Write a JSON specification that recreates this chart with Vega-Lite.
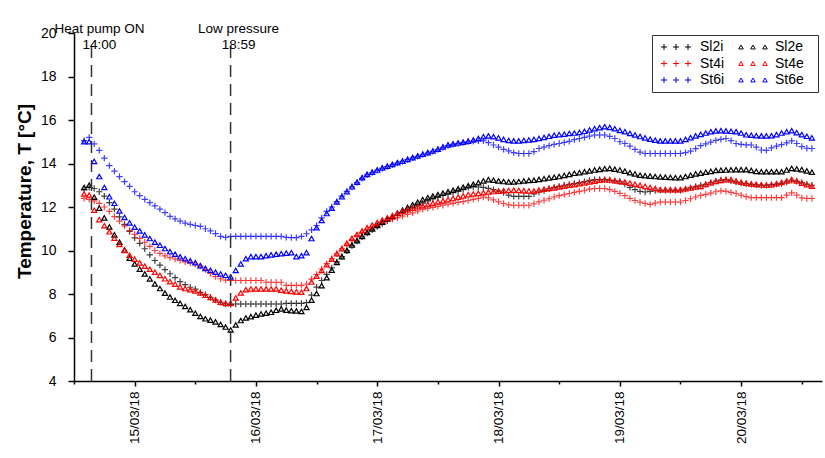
{
"$schema": "https://vega.github.io/schema/vega-lite/v6.json",
"width": 748, "height": 348, "autosize": "none",
"padding": {"left": 74, "top": 33, "right": 3, "bottom": 77},
"background": "white",
"config": {"font": "Liberation Sans", "view": {"stroke": null},
  "axis": {"grid": false, "domainColor": "black", "tickColor": "black", "labelColor": "black", "titleColor": "black", "domainWidth": 1.5, "tickWidth": 1.5}},
"resolve": {"scale": {"color": "independent"}, "legend": {"color": "independent"}},
"datasets": {
"events": [{"h": 15.46, "label": ["Heat pump ON", "14:00"]}, {"h": 42.98, "label": ["Low pressure", "18:59"]}],
"temps": [
{"h":14,"Sl2i":12.8,"Sl2e":12.9,"St4i":12.4,"St4e":12.6,"St6i":15.05,"St6e":15.0},
{"h":15,"Sl2i":12.9,"Sl2e":13.0,"St4i":12.35,"St4e":12.55,"St6i":15.2,"St6e":15.0},
{"h":16,"Sl2i":12.85,"Sl2e":12.45,"St4i":12.28,"St4e":11.85,"St6i":14.9,"St6e":14.1},
{"h":17,"Sl2i":12.7,"Sl2e":11.95,"St4i":12.17,"St4e":11.42,"St6i":14.6,"St6e":13.4},
{"h":18,"Sl2i":12.5,"Sl2e":11.5,"St4i":12.0,"St4e":11.14,"St6i":14.25,"St6e":12.9},
{"h":19,"Sl2i":12.2,"Sl2e":11.08,"St4i":11.8,"St4e":10.86,"St6i":13.9,"St6e":12.47},
{"h":20,"Sl2i":11.9,"Sl2e":10.72,"St4i":11.56,"St4e":10.57,"St6i":13.65,"St6e":12.17},
{"h":21,"Sl2i":11.55,"Sl2e":10.38,"St4i":11.35,"St4e":10.28,"St6i":13.4,"St6e":11.82},
{"h":22,"Sl2i":11.2,"Sl2e":10.03,"St4i":11.13,"St4e":10.0,"St6i":13.17,"St6e":11.52},
{"h":23,"Sl2i":10.88,"Sl2e":9.65,"St4i":10.92,"St4e":9.78,"St6i":12.95,"St6e":11.27},
{"h":24,"Sl2i":10.58,"Sl2e":9.38,"St4i":10.74,"St4e":9.6,"St6i":12.7,"St6e":11.07},
{"h":25,"Sl2i":10.33,"Sl2e":9.14,"St4i":10.56,"St4e":9.43,"St6i":12.52,"St6e":10.9},
{"h":26,"Sl2i":10.08,"Sl2e":8.92,"St4i":10.38,"St4e":9.28,"St6i":12.35,"St6e":10.72},
{"h":27,"Sl2i":9.8,"Sl2e":8.69,"St4i":10.19,"St4e":9.14,"St6i":12.2,"St6e":10.55},
{"h":28,"Sl2i":9.54,"Sl2e":8.46,"St4i":10.0,"St4e":9.0,"St6i":12.05,"St6e":10.38},
{"h":29,"Sl2i":9.33,"Sl2e":8.25,"St4i":9.87,"St4e":8.85,"St6i":11.9,"St6e":10.24},
{"h":30,"Sl2i":9.12,"Sl2e":8.04,"St4i":9.75,"St4e":8.7,"St6i":11.74,"St6e":10.09},
{"h":31,"Sl2i":8.93,"Sl2e":7.86,"St4i":9.67,"St4e":8.57,"St6i":11.57,"St6e":9.95},
{"h":32,"Sl2i":8.75,"Sl2e":7.71,"St4i":9.61,"St4e":8.45,"St6i":11.45,"St6e":9.83},
{"h":33,"Sl2i":8.57,"Sl2e":7.57,"St4i":9.55,"St4e":8.33,"St6i":11.35,"St6e":9.71},
{"h":34,"Sl2i":8.43,"Sl2e":7.43,"St4i":9.48,"St4e":8.25,"St6i":11.26,"St6e":9.62},
{"h":35,"Sl2i":8.31,"Sl2e":7.28,"St4i":9.43,"St4e":8.2,"St6i":11.2,"St6e":9.53},
{"h":36,"Sl2i":8.22,"Sl2e":7.12,"St4i":9.37,"St4e":8.14,"St6i":11.15,"St6e":9.44},
{"h":37,"Sl2i":8.07,"Sl2e":6.97,"St4i":9.28,"St4e":8.05,"St6i":11.11,"St6e":9.3},
{"h":38,"Sl2i":7.97,"Sl2e":6.86,"St4i":9.12,"St4e":7.94,"St6i":11.0,"St6e":9.18},
{"h":39,"Sl2i":7.84,"Sl2e":6.8,"St4i":8.95,"St4e":7.84,"St6i":10.9,"St6e":9.09},
{"h":40,"Sl2i":7.72,"Sl2e":6.72,"St4i":8.8,"St4e":7.73,"St6i":10.78,"St6e":9.0},
{"h":41,"Sl2i":7.62,"Sl2e":6.6,"St4i":8.7,"St4e":7.62,"St6i":10.65,"St6e":8.92},
{"h":42,"Sl2i":7.55,"Sl2e":6.48,"St4i":8.64,"St4e":7.57,"St6i":10.6,"St6e":8.86},
{"h":43,"Sl2i":7.51,"Sl2e":6.35,"St4i":8.62,"St4e":7.57,"St6i":10.65,"St6e":8.79},
{"h":44,"Sl2i":7.54,"Sl2e":6.58,"St4i":8.62,"St4e":7.82,"St6i":10.65,"St6e":9.08},
{"h":45,"Sl2i":7.54,"Sl2e":6.78,"St4i":8.62,"St4e":8.05,"St6i":10.65,"St6e":9.38},
{"h":46,"Sl2i":7.54,"Sl2e":6.9,"St4i":8.62,"St4e":8.2,"St6i":10.65,"St6e":9.62},
{"h":47,"Sl2i":7.54,"Sl2e":6.96,"St4i":8.62,"St4e":8.23,"St6i":10.65,"St6e":9.72},
{"h":48,"Sl2i":7.54,"Sl2e":7.03,"St4i":8.62,"St4e":8.23,"St6i":10.65,"St6e":9.72},
{"h":49,"Sl2i":7.54,"Sl2e":7.08,"St4i":8.62,"St4e":8.23,"St6i":10.65,"St6e":9.72},
{"h":50,"Sl2i":7.54,"Sl2e":7.12,"St4i":8.54,"St4e":8.23,"St6i":10.65,"St6e":9.76},
{"h":51,"Sl2i":7.54,"Sl2e":7.16,"St4i":8.54,"St4e":8.23,"St6i":10.65,"St6e":9.8},
{"h":52,"Sl2i":7.54,"Sl2e":7.25,"St4i":8.54,"St4e":8.23,"St6i":10.65,"St6e":9.83},
{"h":53,"Sl2i":7.54,"Sl2e":7.31,"St4i":8.54,"St4e":8.18,"St6i":10.65,"St6e":9.85},
{"h":54,"Sl2i":7.57,"Sl2e":7.26,"St4i":8.4,"St4e":8.14,"St6i":10.6,"St6e":9.88},
{"h":55,"Sl2i":7.57,"Sl2e":7.23,"St4i":8.4,"St4e":8.12,"St6i":10.59,"St6e":9.9},
{"h":56,"Sl2i":7.57,"Sl2e":7.22,"St4i":8.4,"St4e":8.1,"St6i":10.59,"St6e":9.72},
{"h":57,"Sl2i":7.57,"Sl2e":7.2,"St4i":8.4,"St4e":8.08,"St6i":10.65,"St6e":9.76},
{"h":58,"Sl2i":7.6,"Sl2e":7.38,"St4i":8.46,"St4e":8.25,"St6i":10.77,"St6e":9.9},
{"h":59,"Sl2i":7.95,"Sl2e":7.72,"St4i":8.68,"St4e":8.55,"St6i":10.95,"St6e":10.55},
{"h":60,"Sl2i":8.32,"Sl2e":8.02,"St4i":8.9,"St4e":8.82,"St6i":11.15,"St6e":11.05},
{"h":61,"Sl2i":8.62,"Sl2e":8.38,"St4i":9.15,"St4e":9.08,"St6i":11.5,"St6e":11.38},
{"h":62,"Sl2i":8.9,"Sl2e":8.75,"St4i":9.4,"St4e":9.35,"St6i":11.8,"St6e":11.7},
{"h":63,"Sl2i":9.2,"Sl2e":9.1,"St4i":9.62,"St4e":9.6,"St6i":12.0,"St6e":11.95},
{"h":64,"Sl2i":9.48,"Sl2e":9.45,"St4i":9.85,"St4e":9.85,"St6i":12.25,"St6e":12.23},
{"h":65,"Sl2i":9.72,"Sl2e":9.72,"St4i":10.08,"St4e":10.08,"St6i":12.5,"St6e":12.47},
{"h":66,"Sl2i":9.98,"Sl2e":10.0,"St4i":10.3,"St4e":10.33,"St6i":12.72,"St6e":12.7},
{"h":67,"Sl2i":10.22,"Sl2e":10.25,"St4i":10.5,"St4e":10.56,"St6i":12.93,"St6e":12.93},
{"h":68,"Sl2i":10.43,"Sl2e":10.45,"St4i":10.68,"St4e":10.74,"St6i":13.12,"St6e":13.14},
{"h":69,"Sl2i":10.63,"Sl2e":10.65,"St4i":10.83,"St4e":10.9,"St6i":13.32,"St6e":13.35},
{"h":70,"Sl2i":10.8,"Sl2e":10.83,"St4i":10.95,"St4e":11.05,"St6i":13.48,"St6e":13.5},
{"h":71,"Sl2i":10.95,"Sl2e":10.99,"St4i":11.05,"St4e":11.17,"St6i":13.58,"St6e":13.6},
{"h":72,"Sl2i":11.1,"Sl2e":11.15,"St4i":11.15,"St4e":11.29,"St6i":13.68,"St6e":13.7},
{"h":73,"Sl2i":11.24,"Sl2e":11.3,"St4i":11.27,"St4e":11.4,"St6i":13.78,"St6e":13.8},
{"h":74,"Sl2i":11.38,"Sl2e":11.45,"St4i":11.35,"St4e":11.5,"St6i":13.86,"St6e":13.88},
{"h":75,"Sl2i":11.5,"Sl2e":11.58,"St4i":11.43,"St4e":11.6,"St6i":13.94,"St6e":13.96},
{"h":76,"Sl2i":11.62,"Sl2e":11.72,"St4i":11.5,"St4e":11.7,"St6i":14.02,"St6e":14.04},
{"h":77,"Sl2i":11.73,"Sl2e":11.85,"St4i":11.58,"St4e":11.8,"St6i":14.1,"St6e":14.11},
{"h":78,"Sl2i":11.85,"Sl2e":11.98,"St4i":11.66,"St4e":11.88,"St6i":14.18,"St6e":14.19},
{"h":79,"Sl2i":11.96,"Sl2e":12.1,"St4i":11.73,"St4e":11.95,"St6i":14.26,"St6e":14.27},
{"h":80,"Sl2i":12.07,"Sl2e":12.22,"St4i":11.81,"St4e":12.01,"St6i":14.33,"St6e":14.35},
{"h":81,"Sl2i":12.18,"Sl2e":12.34,"St4i":11.89,"St4e":12.06,"St6i":14.41,"St6e":14.43},
{"h":82,"Sl2i":12.28,"Sl2e":12.43,"St4i":11.94,"St4e":12.12,"St6i":14.48,"St6e":14.5},
{"h":83,"Sl2i":12.37,"Sl2e":12.5,"St4i":11.98,"St4e":12.17,"St6i":14.56,"St6e":14.58},
{"h":84,"Sl2i":12.45,"Sl2e":12.57,"St4i":12.03,"St4e":12.23,"St6i":14.64,"St6e":14.66},
{"h":85,"Sl2i":12.53,"Sl2e":12.64,"St4i":12.08,"St4e":12.28,"St6i":14.73,"St6e":14.76},
{"h":86,"Sl2i":12.6,"Sl2e":12.7,"St4i":12.13,"St4e":12.34,"St6i":14.82,"St6e":14.85},
{"h":87,"Sl2i":12.66,"Sl2e":12.77,"St4i":12.17,"St4e":12.39,"St6i":14.88,"St6e":14.9},
{"h":88,"Sl2i":12.73,"Sl2e":12.84,"St4i":12.21,"St4e":12.45,"St6i":14.92,"St6e":14.94},
{"h":89,"Sl2i":12.8,"Sl2e":12.91,"St4i":12.25,"St4e":12.51,"St6i":14.96,"St6e":14.98},
{"h":90,"Sl2i":12.9,"Sl2e":12.98,"St4i":12.3,"St4e":12.57,"St6i":15.0,"St6e":15.03},
{"h":91,"Sl2i":12.92,"Sl2e":13.05,"St4i":12.35,"St4e":12.6,"St6i":15.02,"St6e":15.08},
{"h":92,"Sl2i":12.92,"Sl2e":13.12,"St4i":12.4,"St4e":12.63,"St6i":15.04,"St6e":15.15},
{"h":93,"Sl2i":12.9,"Sl2e":13.2,"St4i":12.45,"St4e":12.66,"St6i":15.04,"St6e":15.23},
{"h":94,"Sl2i":12.86,"Sl2e":13.26,"St4i":12.42,"St4e":12.69,"St6i":14.96,"St6e":15.27},
{"h":95,"Sl2i":12.8,"Sl2e":13.23,"St4i":12.33,"St4e":12.71,"St6i":14.85,"St6e":15.23},
{"h":96,"Sl2i":12.73,"Sl2e":13.2,"St4i":12.24,"St4e":12.73,"St6i":14.75,"St6e":15.18},
{"h":97,"Sl2i":12.66,"Sl2e":13.17,"St4i":12.16,"St4e":12.75,"St6i":14.65,"St6e":15.11},
{"h":98,"Sl2i":12.55,"Sl2e":13.15,"St4i":12.1,"St4e":12.76,"St6i":14.58,"St6e":15.06},
{"h":99,"Sl2i":12.49,"Sl2e":13.15,"St4i":12.08,"St4e":12.77,"St6i":14.5,"St6e":15.04},
{"h":100,"Sl2i":12.49,"Sl2e":13.17,"St4i":12.08,"St4e":12.76,"St6i":14.46,"St6e":15.04},
{"h":101,"Sl2i":12.49,"Sl2e":13.2,"St4i":12.08,"St4e":12.75,"St6i":14.46,"St6e":15.06},
{"h":102,"Sl2i":12.49,"Sl2e":13.22,"St4i":12.08,"St4e":12.74,"St6i":14.46,"St6e":15.08},
{"h":103,"Sl2i":12.6,"Sl2e":13.23,"St4i":12.15,"St4e":12.74,"St6i":14.55,"St6e":15.11},
{"h":104,"Sl2i":12.69,"Sl2e":13.27,"St4i":12.24,"St4e":12.78,"St6i":14.69,"St6e":15.15},
{"h":105,"Sl2i":12.76,"Sl2e":13.3,"St4i":12.31,"St4e":12.82,"St6i":14.75,"St6e":15.2},
{"h":106,"Sl2i":12.84,"Sl2e":13.34,"St4i":12.38,"St4e":12.85,"St6i":14.82,"St6e":15.25},
{"h":107,"Sl2i":12.9,"Sl2e":13.37,"St4i":12.46,"St4e":12.88,"St6i":14.88,"St6e":15.3},
{"h":108,"Sl2i":12.95,"Sl2e":13.4,"St4i":12.52,"St4e":12.92,"St6i":14.92,"St6e":15.33},
{"h":109,"Sl2i":13.0,"Sl2e":13.45,"St4i":12.57,"St4e":12.96,"St6i":14.97,"St6e":15.35},
{"h":110,"Sl2i":13.04,"Sl2e":13.5,"St4i":12.62,"St4e":13.0,"St6i":15.02,"St6e":15.38},
{"h":111,"Sl2i":13.08,"Sl2e":13.55,"St4i":12.67,"St4e":13.03,"St6i":15.1,"St6e":15.4},
{"h":112,"Sl2i":13.12,"Sl2e":13.58,"St4i":12.72,"St4e":13.07,"St6i":15.15,"St6e":15.43},
{"h":113,"Sl2i":13.17,"Sl2e":13.62,"St4i":12.77,"St4e":13.11,"St6i":15.2,"St6e":15.48},
{"h":114,"Sl2i":13.22,"Sl2e":13.66,"St4i":12.82,"St4e":13.15,"St6i":15.26,"St6e":15.54},
{"h":115,"Sl2i":13.26,"Sl2e":13.7,"St4i":12.85,"St4e":13.19,"St6i":15.31,"St6e":15.6},
{"h":116,"Sl2i":13.26,"Sl2e":13.73,"St4i":12.85,"St4e":13.23,"St6i":15.31,"St6e":15.65},
{"h":117,"Sl2i":13.26,"Sl2e":13.76,"St4i":12.85,"St4e":13.26,"St6i":15.31,"St6e":15.69},
{"h":118,"Sl2i":13.24,"Sl2e":13.77,"St4i":12.8,"St4e":13.24,"St6i":15.25,"St6e":15.66},
{"h":119,"Sl2i":13.2,"Sl2e":13.74,"St4i":12.72,"St4e":13.21,"St6i":15.15,"St6e":15.6},
{"h":120,"Sl2i":13.16,"Sl2e":13.7,"St4i":12.63,"St4e":13.18,"St6i":15.0,"St6e":15.52},
{"h":121,"Sl2i":13.05,"Sl2e":13.65,"St4i":12.52,"St4e":13.15,"St6i":14.92,"St6e":15.46},
{"h":122,"Sl2i":12.9,"Sl2e":13.58,"St4i":12.4,"St4e":13.1,"St6i":14.8,"St6e":15.38},
{"h":123,"Sl2i":12.8,"Sl2e":13.52,"St4i":12.3,"St4e":13.05,"St6i":14.65,"St6e":15.31},
{"h":124,"Sl2i":12.72,"Sl2e":13.46,"St4i":12.22,"St4e":13.0,"St6i":14.52,"St6e":15.24},
{"h":125,"Sl2i":12.69,"Sl2e":13.44,"St4i":12.16,"St4e":12.95,"St6i":14.46,"St6e":15.18},
{"h":126,"Sl2i":12.72,"Sl2e":13.42,"St4i":12.12,"St4e":12.9,"St6i":14.46,"St6e":15.12},
{"h":127,"Sl2i":12.75,"Sl2e":13.4,"St4i":12.18,"St4e":12.85,"St6i":14.46,"St6e":15.07},
{"h":128,"Sl2i":12.77,"Sl2e":13.38,"St4i":12.23,"St4e":12.8,"St6i":14.46,"St6e":15.04},
{"h":129,"Sl2i":12.77,"Sl2e":13.37,"St4i":12.23,"St4e":12.8,"St6i":14.46,"St6e":15.04},
{"h":130,"Sl2i":12.77,"Sl2e":13.36,"St4i":12.23,"St4e":12.8,"St6i":14.46,"St6e":15.04},
{"h":131,"Sl2i":12.77,"Sl2e":13.35,"St4i":12.23,"St4e":12.8,"St6i":14.46,"St6e":15.04},
{"h":132,"Sl2i":12.77,"Sl2e":13.35,"St4i":12.23,"St4e":12.8,"St6i":14.46,"St6e":15.04},
{"h":133,"Sl2i":12.82,"Sl2e":13.4,"St4i":12.3,"St4e":12.84,"St6i":14.5,"St6e":15.11},
{"h":134,"Sl2i":12.88,"Sl2e":13.46,"St4i":12.38,"St4e":12.88,"St6i":14.57,"St6e":15.19},
{"h":135,"Sl2i":12.94,"Sl2e":13.52,"St4i":12.46,"St4e":12.92,"St6i":14.68,"St6e":15.27},
{"h":136,"Sl2i":12.99,"Sl2e":13.56,"St4i":12.53,"St4e":12.95,"St6i":14.82,"St6e":15.34},
{"h":137,"Sl2i":13.04,"Sl2e":13.6,"St4i":12.58,"St4e":13.04,"St6i":14.9,"St6e":15.4},
{"h":138,"Sl2i":13.12,"Sl2e":13.64,"St4i":12.64,"St4e":13.12,"St6i":14.98,"St6e":15.46},
{"h":139,"Sl2i":13.19,"Sl2e":13.68,"St4i":12.7,"St4e":13.18,"St6i":15.06,"St6e":15.5},
{"h":140,"Sl2i":13.24,"Sl2e":13.69,"St4i":12.74,"St4e":13.22,"St6i":15.11,"St6e":15.51},
{"h":141,"Sl2i":13.26,"Sl2e":13.7,"St4i":12.72,"St4e":13.25,"St6i":15.15,"St6e":15.5},
{"h":142,"Sl2i":13.2,"Sl2e":13.71,"St4i":12.67,"St4e":13.26,"St6i":15.05,"St6e":15.48},
{"h":143,"Sl2i":13.14,"Sl2e":13.72,"St4i":12.62,"St4e":13.2,"St6i":14.92,"St6e":15.46},
{"h":144,"Sl2i":13.1,"Sl2e":13.72,"St4i":12.55,"St4e":13.14,"St6i":14.88,"St6e":15.4},
{"h":145,"Sl2i":13.07,"Sl2e":13.72,"St4i":12.48,"St4e":13.09,"St6i":14.86,"St6e":15.32},
{"h":146,"Sl2i":13.04,"Sl2e":13.68,"St4i":12.43,"St4e":13.06,"St6i":14.85,"St6e":15.3},
{"h":147,"Sl2i":13.02,"Sl2e":13.64,"St4i":12.43,"St4e":13.04,"St6i":14.75,"St6e":15.28},
{"h":148,"Sl2i":13.0,"Sl2e":13.62,"St4i":12.43,"St4e":13.02,"St6i":14.62,"St6e":15.27},
{"h":149,"Sl2i":13.0,"Sl2e":13.62,"St4i":12.43,"St4e":13.0,"St6i":14.6,"St6e":15.27},
{"h":150,"Sl2i":13.03,"Sl2e":13.62,"St4i":12.43,"St4e":13.02,"St6i":14.72,"St6e":15.28},
{"h":151,"Sl2i":13.05,"Sl2e":13.62,"St4i":12.43,"St4e":13.07,"St6i":14.8,"St6e":15.33},
{"h":152,"Sl2i":13.08,"Sl2e":13.62,"St4i":12.43,"St4e":13.13,"St6i":14.87,"St6e":15.4},
{"h":153,"Sl2i":13.15,"Sl2e":13.7,"St4i":12.55,"St4e":13.2,"St6i":14.95,"St6e":15.46},
{"h":154,"Sl2i":13.23,"Sl2e":13.77,"St4i":12.65,"St4e":13.26,"St6i":15.04,"St6e":15.51},
{"h":155,"Sl2i":13.18,"Sl2e":13.75,"St4i":12.55,"St4e":13.2,"St6i":14.92,"St6e":15.42},
{"h":156,"Sl2i":13.12,"Sl2e":13.72,"St4i":12.42,"St4e":13.1,"St6i":14.78,"St6e":15.33},
{"h":157,"Sl2i":13.05,"Sl2e":13.66,"St4i":12.39,"St4e":13.02,"St6i":14.7,"St6e":15.25},
{"h":158,"Sl2i":13.0,"Sl2e":13.6,"St4i":12.39,"St4e":12.96,"St6i":14.69,"St6e":15.18}
]},
"layer": [
{"data": {"name": "temps"},
 "transform": [{"fold": ["Sl2i", "St4i", "St6i"], "as": ["series", "T"]}],
 "mark": {"type": "point", "filled": false, "shape": "M-1,0H1M0,-1V1", "size": 40, "strokeWidth": 1.2, "opacity": 0.75},
 "encoding": {
  "x": {"field": "h", "type": "quantitative", "scale": {"domain": [12, 160], "nice": false, "zero": false},
   "axis": {"title": null, "values": [12,24,36,48,60,72,84,96,108,120,132,144,156],
     "labelExpr": "datum.value % 24 === 0 ? (14 + datum.value / 24) + '/03/18' : ''",
     "tickSize": {"condition": {"test": "datum.value % 24 === 0", "value": 5}, "value": 3},
     "labelAngle": -90, "labelAlign": "right", "labelBaseline": "middle", "labelFontSize": 13.5, "labelPadding": 5}},
  "y": {"field": "T", "type": "quantitative", "scale": {"domain": [4, 20], "nice": false, "zero": false},
   "axis": {"title": "Temperature, T [°C]", "values": [4,6,8,10,12,14,16,18,20], "tickSize": 6, "labelFontSize": 14, "labelPadding": 12,
     "titleFontSize": 19, "titleFontWeight": "bold", "titleX": -44, "titleY": 158, "titleBaseline": "alphabetic", "titleAlign": "center"}},
  "color": {"field": "series", "type": "nominal",
   "scale": {"domain": ["Sl2i", "St4i", "St6i"], "range": ["#000000", "#ff0000", "#0000ff"]},
   "legend": {"title": null, "orient": "none", "legendX": 578, "legendY": 2, "padding": 5, "strokeColor": "#333333",
     "symbolType": "M-1,0H1M0,-1V1M3,0H5M4,-1V1M7,0H9M8,-1V1M48.7,0", "symbolSize": 36, "symbolStrokeWidth": 1, "symbolOpacity": 1,
     "labelOffset": 29, "labelFontSize": 14, "rowPadding": 2.5}}
 }},
{"data": {"name": "temps"},
 "transform": [{"fold": ["Sl2e", "St4e", "St6e"], "as": ["series", "T"]}],
 "mark": {"type": "point", "filled": false, "shape": "triangle-up", "size": 26, "strokeWidth": 1.2, "opacity": 1},
 "encoding": {
  "x": {"field": "h", "type": "quantitative"},
  "y": {"field": "T", "type": "quantitative"},
  "color": {"field": "series", "type": "nominal",
   "scale": {"domain": ["Sl2e", "St4e", "St6e"], "range": ["#000000", "#ff0000", "#0000ff"]},
   "legend": {"title": null, "orient": "none", "legendX": 660, "legendY": 7, "padding": 0,
     "symbolType": "M-0.75,0.65L0,-0.65L0.75,0.65ZM3.25,0.65L4,-0.65L4.75,0.65ZM7.25,0.65L8,-0.65L8.75,0.65Z", "symbolSize": 36, "symbolStrokeWidth": 1, "symbolOpacity": 1,
     "labelOffset": 27, "labelFontSize": 14, "rowPadding": 2.5}}
 }},
{"data": {"name": "events"},
 "mark": {"type": "rule", "strokeDash": [12, 7], "color": "#333333", "strokeWidth": 1.5},
 "encoding": {"x": {"field": "h", "type": "quantitative"}, "y": {"datum": 4}, "y2": {"datum": 19.4}}},
{"data": {"name": "events"},
 "mark": {"type": "text", "baseline": "bottom", "dx": 8, "dy": 3, "fontSize": 13.5, "lineHeight": 16, "color": "black"},
 "encoding": {"x": {"field": "h", "type": "quantitative"}, "y": {"datum": 20}, "text": {"field": "label"}}}
]
}
